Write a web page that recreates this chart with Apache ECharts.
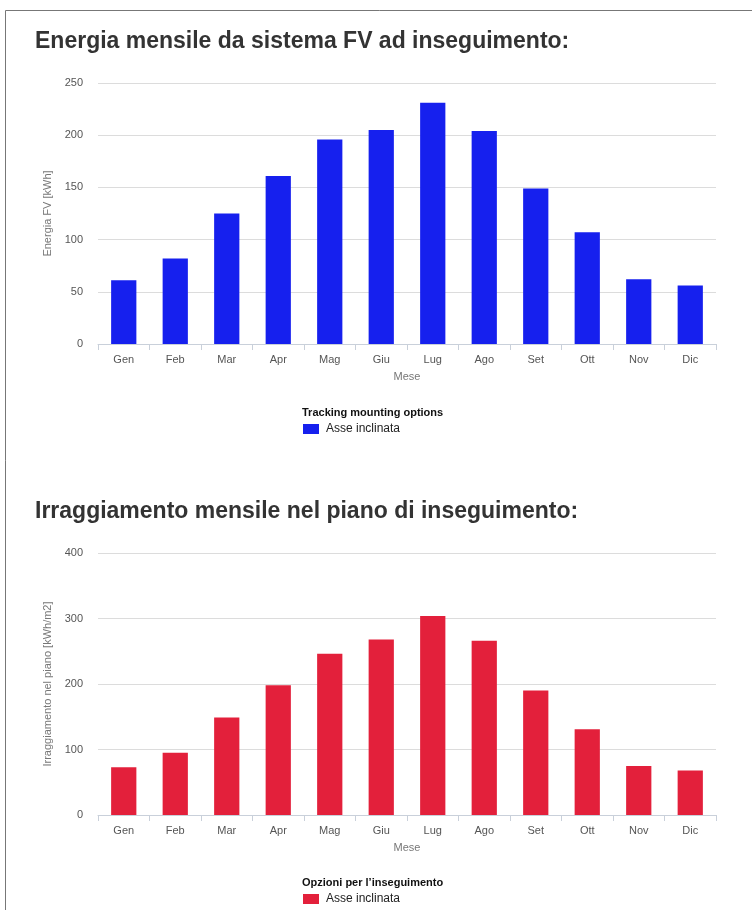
<!DOCTYPE html>
<html>
<head>
<meta charset="utf-8">
<script src="https://cdn.jsdelivr.net/npm/echarts@6/dist/echarts.min.js"></script>
<style>
  html, body { margin: 0; padding: 0; background: #fff; }
  #chart { width: 752px; height: 910px; }
</style>
</head>
<body>
<div id="chart"></div>
<script>
// mesi
var mesi = ['Gen', 'Feb', 'Mar', 'Apr', 'Mag', 'Giu', 'Lug', 'Ago', 'Set', 'Ott', 'Nov', 'Dic'];
// energia mensile [kWh]
var energiaFV = [61, 82, 125, 161, 196, 205, 231, 204, 149, 107, 62, 56];
// irraggiamento nel piano [kWh/m2]
var irraggiamento = [73, 95, 149, 198, 246, 268, 304, 266, 190, 131, 75, 68];

var coloreBlu = '#1620ee';
var coloreRosso = '#e3203b';

var font = 'Liberation Sans, Arial, sans-serif';

function asseX(idx) {
    return {
        type: 'category',
        gridIndex: idx,
        data: mesi,
        name: 'Mese',
        nameLocation: 'middle',
        nameGap: 27,
        nameTextStyle: { color: '#777', fontSize: 11, fontFamily: font },
        axisLine: { lineStyle: { color: '#c9d0da' } },
        axisTick: { show: true, length: 6, lineStyle: { color: '#c9d0da' } },
        axisLabel: { color: '#555', fontSize: 11, fontFamily: font, margin: 10 }
    };
}

function asseY(idx, nome, max, step, gap) {
    return {
        type: 'value',
        gridIndex: idx,
        min: 0,
        max: max,
        interval: step,
        name: nome,
        nameLocation: 'middle',
        nameGap: gap,
        nameTextStyle: { color: '#777', fontSize: 11, fontFamily: font },
        axisLine: { show: false },
        axisTick: { show: false },
        axisLabel: { color: '#555', fontSize: 11, fontFamily: font, margin: 15 },
        splitLine: { lineStyle: { color: '#dcdcdc' } }
    };
}

//legenda con colore esplicito
function legenda(top, colore) {
    return {
        left: 298,
        top: top,
        itemWidth: 16,
        itemHeight: 10,
        icon: 'rect',
        textStyle: { color: '#222', fontSize: 12, fontFamily: font, padding: [0, 0, 0, 2] },
        data: [{ name: 'Asse inclinata', itemStyle: { color: colore } }]
    };
}

var myChart = echarts.init(document.getElementById('chart'));

option = {
    animation: false,
    backgroundColor: '#fff',
    graphic: [{
        type: 'rect',
        shape: { x: 5.5, y: 10.5, width: 800, height: 950 },
        style: { fill: 'none', stroke: '#777', lineWidth: 1 },
        silent: true
    }],
    title: [{
        text: 'Energia mensile da sistema FV ad inseguimento:',
        left: 30,
        top: 25,
        textStyle: { color: '#333', fontSize: 23, fontWeight: 'bold', fontFamily: font }
    }, {
        text: 'Irraggiamento mensile nel piano di inseguimento:',
        left: 30,
        top: 495,
        textStyle: { color: '#333', fontSize: 23, fontWeight: 'bold', fontFamily: font }
    }, {
        text: 'Tracking mounting options',
        left: 297,
        top: 402,
        textStyle: { color: '#111', fontSize: 11, fontWeight: 'bold', fontFamily: font }
    }, {
        text: 'Opzioni per l\u2019inseguimento',
        left: 297,
        top: 872,
        textStyle: { color: '#111', fontSize: 11, fontWeight: 'bold', fontFamily: font }
    }],
    legend: [legenda(418, coloreBlu), legenda(888, coloreRosso)],
    grid: [
        { left: 98, top: 83, width: 618, height: 261 },
        { left: 98, top: 553, width: 618, height: 262 }
    ],
    xAxis: [asseX(0), asseX(1)],
    yAxis: [
        asseY(0, 'Energia FV [kWh]', 250, 50, 39),
        asseY(1, 'Irraggiamento nel piano [kWh/m2]', 400, 100, 39)
    ],
    series: [{
        name: 'Asse inclinata',
        type: 'bar',
        xAxisIndex: 0,
        yAxisIndex: 0,
        barWidth: '49%',
        itemStyle: { color: coloreBlu },
        data: energiaFV
    }, {
        name: 'Asse inclinata',
        type: 'bar',
        xAxisIndex: 1,
        yAxisIndex: 1,
        barWidth: '49%',
        itemStyle: { color: coloreRosso },
        data: irraggiamento
    }]
};

myChart.setOption(option);
</script>
</body>
</html>
